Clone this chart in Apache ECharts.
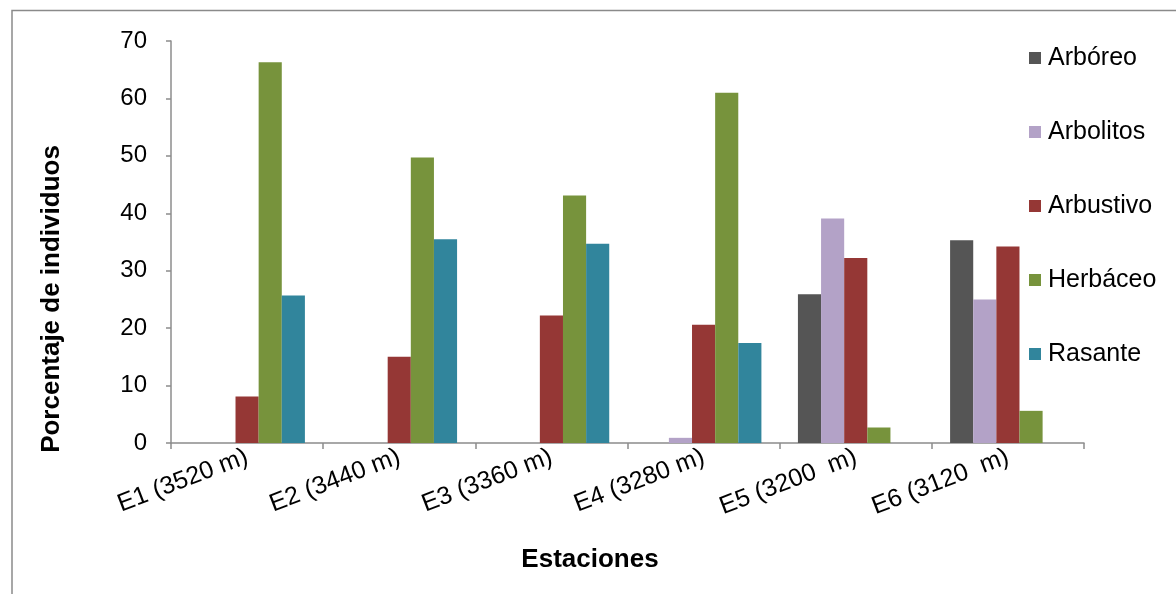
<!DOCTYPE html>
<html>
<head>
<meta charset="utf-8">
<script src="https://cdn.jsdelivr.net/npm/echarts@6/dist/echarts.min.js"></script>
<style>
html,body{margin:0;padding:0;background:#fff;}
#chart{width:1176px;height:594px;}
</style>
</head>
<body>
<div id="chart"></div>
<script>
const categories = ['E1 (3520 m)', 'E2 (3440 m)', 'E3 (3360 m)', 'E4 (3280 m)', 'E5 (3200  m)', 'E6 (3120  m)'];
const seriesNames = ['Arbóreo', 'Arbolitos', 'Arbustivo', 'Herbáceo', 'Rasante'];
const arboreo   = [0, 0, 0, 0, 25.9, 35.3];
const arbolitos = [0, 0, 0, 0.9, 39.1, 25.0];
const arbustivo = [8.1, 15.0, 22.2, 20.6, 32.2, 34.2];
const herbaceo  = [66.3, 49.7, 43.1, 61.0, 2.7, 5.6];
const rasante   = [25.7, 35.5, 34.7, 17.4, 0, 0];
const yTicks = [0, 10, 20, 30, 40, 50, 60, 70];
const colors = ['#555555', '#B3A2C7', '#953735', '#77933C', '#31859C'];

const values = [arboreo, arbolitos, arbustivo, herbaceo, rasante];
const font = 'Liberation Sans, Arial, sans-serif';
const axisGray = '#8c8c8c';

const chart = echarts.init(document.getElementById('chart'), null, {renderer: 'canvas'});
chart.setOption({
  animation: false,
  backgroundColor: '#ffffff',
  color: colors,
  grid: {left: 171, right: 92, top: 41, bottom: 151, containLabel: false},
  legend: {
    orient: 'vertical',
    left: 1029,
    top: 45,
    padding: 0,
    itemWidth: 12,
    itemHeight: 12,
    itemGap: 48,
    icon: 'rect',
    data: seriesNames,
    textStyle: {fontFamily: font, fontSize: 25, color: '#000', lineHeight: 26, padding: [0, 0, 0, 2]}
  },
  xAxis: {
    type: 'category',
    data: categories,
    axisLine: {lineStyle: {color: axisGray, width: 1.5}},
    axisTick: {show: true, length: 6, lineStyle: {color: axisGray, width: 1.5}},
    axisLabel: {rotate: 21, margin: 13, fontFamily: font, fontSize: 25, color: '#000', interval: 0}
  },
  yAxis: {
    type: 'value',
    min: yTicks[0],
    max: yTicks[yTicks.length - 1],
    interval: 10,
    splitLine: {show: false},
    axisLine: {show: true, lineStyle: {color: axisGray, width: 1.5}},
    axisTick: {show: true, length: 5, lineStyle: {color: axisGray, width: 1.5}},
    axisLabel: {margin: 24, fontFamily: font, fontSize: 24, color: '#000'}
  },
  series: seriesNames.map((name, i) => ({
    name: name,
    type: 'bar',
    data: values[i],
    barGap: '0%',
    barCategoryGap: '24%',
    itemStyle: {color: colors[i], borderWidth: 0}
  })),
  graphic: [
    {type: 'polyline', shape: {points: [[12, 600], [12, 10.5], [1180, 10.5]]}, style: {stroke: '#8a8a8a', lineWidth: 1.5, fill: null}},
    {type: 'text', x: 52, y: 299, rotation: Math.PI / 2,
     style: {text: 'Porcentaje de individuos', font: 'bold 26px ' + font, fill: '#000', textAlign: 'center', textVerticalAlign: 'middle'}},
    {type: 'text', x: 590, y: 560,
     style: {text: 'Estaciones', font: 'bold 26px ' + font, fill: '#000', textAlign: 'center', textVerticalAlign: 'middle'}}
  ]
});
</script>
</body>
</html>
